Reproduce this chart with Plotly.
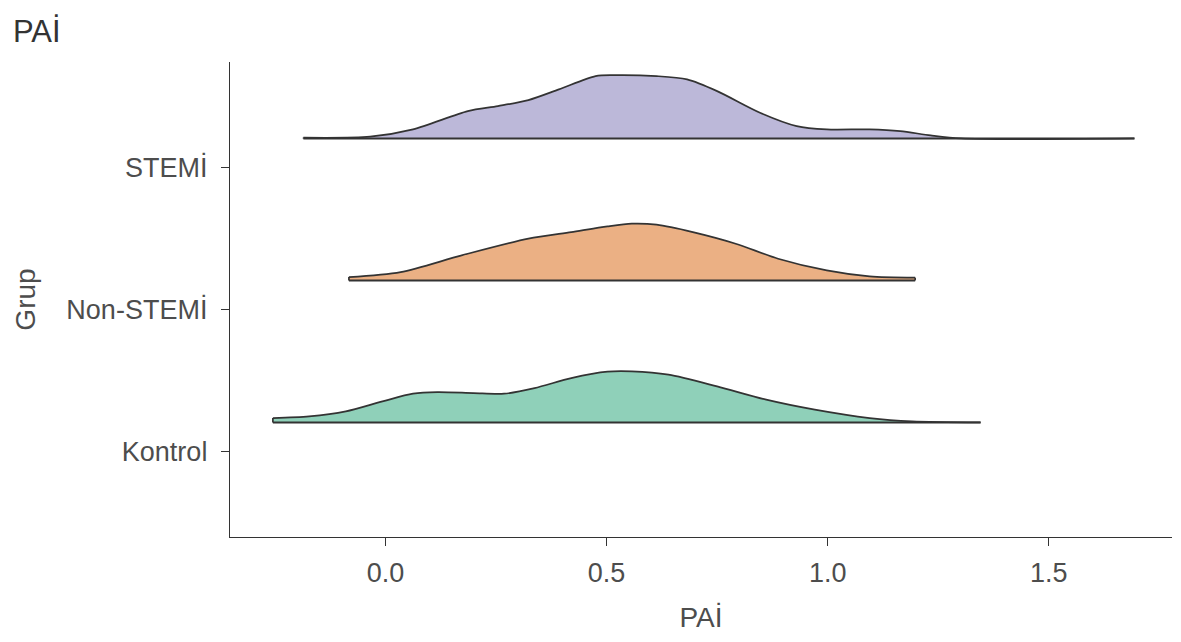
import plotly.graph_objects as go

# Groups (bottom to top)
groups = ["Kontrol", "Non-STEMİ", "STEMİ"]
fills = ["#8fd0b9", "#ebb084", "#bcb8d9"]

# Density curves (x = PAİ, h = ridge height in px; 142 px = 1 group step)
kontrol_x = [-0.255, -0.173, -0.090, -0.007, 0.062, 0.117, 0.199, 0.268, 0.337, 0.420,
             0.502, 0.557, 0.640, 0.750, 0.861, 0.971, 1.095, 1.191, 1.346]
kontrol_h = [4.3, 6, 11, 21, 28.7, 30.3, 29.3, 28.7, 34.3, 44.3,
             50.7, 51, 47.7, 36, 22.7, 12.7, 4.3, 1, 0]

nonstemi_x = [-0.083, 0.034, 0.172, 0.323, 0.420, 0.502, 0.557, 0.613, 0.695, 0.792,
              0.888, 0.998, 1.095, 1.198]
nonstemi_h = [3.3, 8.3, 25, 41.7, 48.3, 54, 56.7, 55.7, 48.3, 36.7,
              21.7, 10, 4, 2.7]

stemi_x = [-0.186, -0.035, 0.062, 0.186, 0.254, 0.323, 0.392, 0.475, 0.516, 0.613,
           0.682, 0.750, 0.847, 0.930, 0.998, 1.095, 1.164, 1.233, 1.302, 1.694]
stemi_h = [0.7, 1.7, 9, 27.3, 32.3, 38.3, 49, 62.3, 63.3, 62.3,
           59, 47.3, 25.7, 12.3, 9, 9, 7.3, 3, 0, 0]

curves = [(kontrol_x, kontrol_h), (nonstemi_x, nonstemi_h), (stemi_x, stemi_h)]
baseline_offset = 0.208
px_per_unit = 142.0

x_ticks = [0.0, 0.5, 1.0, 1.5]
x_ticklabels = ["0.0", "0.5", "1.0", "1.5"]

LINE = "#333333"
fig = go.Figure()
for i in [2, 1, 0]:
    xs, hs = curves[i]
    base = i + 1 + baseline_offset
    top_y = [base + h / px_per_unit for h in hs]
    # baseline
    fig.add_trace(go.Scatter(
        x=list(xs), y=[base] * len(xs), mode="lines",
        line=dict(color=LINE, width=2), hoverinfo="skip", showlegend=False))
    # ridge top filled down to baseline
    fig.add_trace(go.Scatter(
        x=list(xs), y=top_y, mode="lines", fill="tonexty", fillcolor=fills[i],
        line=dict(color=LINE, width=1.7, shape="spline", smoothing=0.8),
        hoverinfo="skip", showlegend=False))
    # small end edges
    for xe, ye in [(xs[0], top_y[0]), (xs[-1], top_y[-1])]:
        if ye - base > 1e-6:
            fig.add_trace(go.Scatter(
                x=[xe, xe], y=[base, ye], mode="lines",
                line=dict(color=LINE, width=1.7), hoverinfo="skip", showlegend=False))

fig.update_layout(
    width=1181, height=642,
    margin=dict(l=230, r=9, t=62, b=105),
    paper_bgcolor="white", plot_bgcolor="white",
    font=dict(family="Liberation Sans, Arial, sans-serif", color="#4d4d4d"),
    title=dict(text="PAİ", x=0.011, xanchor="left", y=0.952, yanchor="middle",
               font=dict(size=31, color="#333333")),
    xaxis=dict(
        range=[-0.352, 1.779], tickvals=x_ticks, ticktext=x_ticklabels,
        showgrid=False, zeroline=False, showline=True, linecolor=LINE, linewidth=1.4,
        ticks="outside", ticklen=8, tickcolor=LINE, tickwidth=1.4,
        ticklabelstandoff=3,
        tickfont=dict(size=27, color="#4d4d4d"),
        title=dict(text="PAİ", font=dict(size=28, color="#4d4d4d"), standoff=20)),
    yaxis=dict(
        range=[0.401, 3.746], tickvals=[1, 2, 3], ticktext=groups,
        showgrid=False, zeroline=False, showline=True, linecolor=LINE, linewidth=1.4,
        ticks="outside", ticklen=8, tickcolor=LINE, tickwidth=1.4,
        ticklabelstandoff=8,
        tickfont=dict(size=27, color="#4d4d4d"),
        title=dict(text="Grup", font=dict(size=28, color="#4d4d4d"), standoff=22)),
)

fig.write_html("out.html")
